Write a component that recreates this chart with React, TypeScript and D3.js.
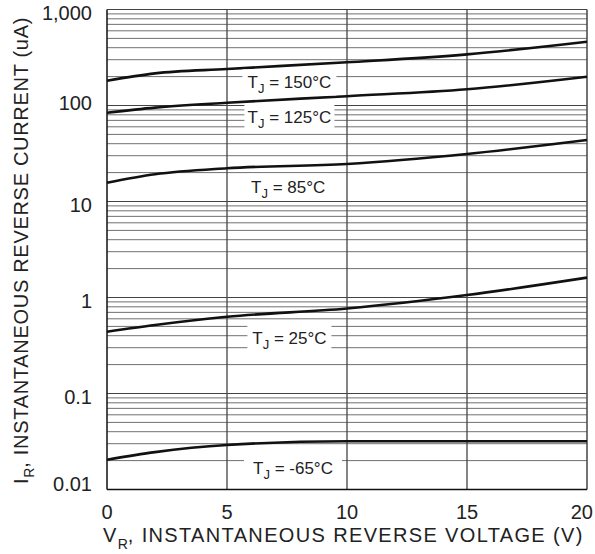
import React from "react";
import * as d3 from "d3";

// reverse voltage points (V)
const voltages = [0, 2, 5, 10, 15, 20];

// instantaneous reverse current (uA) per junction temperature
const i150 = [181, 216, 240, 282, 341, 462];
const i125 = [84, 95, 107, 125, 147.5, 199.5];
const i85 = [15.7, 19.2, 22.2, 24.6, 31.3, 43.7];
const i25 = [0.44, 0.517, 0.63, 0.768, 1.06, 1.61];
const iM65 = [0.0204, 0.0245, 0.0291, 0.0318, 0.0318, 0.0318];

const temps = ["150", "125", "85", "25", "-65"];
const seriesList = [i150, i125, i85, i25, iM65];

// label anchors in data coords [V, uA]
const labelAnchors: [number, number][] = [
  [7.6, 174],
  [7.6, 76],
  [7.55, 14.3],
  [7.6, 0.38],
  [7.75, 0.0168],
];
const labelBoxW = [94, 90, 82, 84, 98];

const xTicks = [0, 5, 10, 15, 20];
const yTicks = [0.01, 0.1, 1, 10, 100, 1000];
const yTickLabels = ["0.01", "0.1", "1", "10", "100", "1,000"];

const W = 595;
const H = 554;
const left = 107;
const right = 587;
const top = 9.5;
const bottom = 489.5;

export default function App() {
  const x = d3.scaleLinear().domain([0, 20]).range([left, right]);
  const y = d3.scaleLog().domain([0.01, 1000]).range([bottom, top]);

  const minor: number[] = [];
  for (let d = 0.01; d < 1000; d *= 10) {
    for (let k = 2; k <= 9; k++) minor.push(+(d * k).toPrecision(3));
  }

  const line = d3
    .line<number>()
    .x((_, i) => x(voltages[i]))
    .y((v) => y(v))
    .curve(d3.curveMonotoneX);

  const font = "Arial, 'Liberation Sans', sans-serif";
  // tick label baseline offsets below each decade line
  const tickDy = (v: number) => (v === 0.01 ? 1 : v === 100 ? 4 : 10);

  return (
    <svg
      width={W}
      height={H}
      style={{ position: "absolute", left: 0, top: 0, background: "#fff" }}
      fontFamily={font}
    >
      <rect width={W} height={H} fill="#fff" />
      {/* minor horizontal grid */}
      {minor.map((v) => (
        <line
          key={"m" + v}
          x1={left}
          x2={right}
          y1={y(v)}
          y2={y(v)}
          stroke="#707070"
          strokeWidth={1}
        />
      ))}
      {/* decade grid */}
      {yTicks.map((v) => (
        <line
          key={"d" + v}
          x1={left}
          x2={right}
          y1={y(v)}
          y2={y(v)}
          stroke="#444"
          strokeWidth={1}
        />
      ))}
      {/* vertical grid */}
      {xTicks.slice(1, -1).map((v) => (
        <line
          key={"v" + v}
          x1={x(v)}
          x2={x(v)}
          y1={top}
          y2={bottom}
          stroke="#444"
          strokeWidth={1.3}
        />
      ))}
      {/* frame */}
      <line x1={left} x2={left} y1={top} y2={bottom} stroke="#111" strokeWidth={1.5} />
      <line x1={right} x2={right} y1={top} y2={bottom} stroke="#444" strokeWidth={1.5} />
      <line x1={left} x2={right} y1={bottom} y2={bottom} stroke="#111" strokeWidth={1.5} />

      {/* curves */}
      {seriesList.map((s, i) => (
        <path
          key={"c" + i}
          d={line(s) || ""}
          fill="none"
          stroke="#111"
          strokeWidth={2.6}
        />
      ))}

      {/* curve labels */}
      {temps.map((t, i) => {
        const cx = x(labelAnchors[i][0]);
        const cy = y(labelAnchors[i][1]);
        const bw = labelBoxW[i];
        return (
          <g key={"l" + t}>
            <rect x={cx - bw / 2} y={cy - 13} width={bw} height={26} fill="#fff" />
            <text x={cx} y={cy + 6} textAnchor="middle" fontSize={17} fill="#222">
              T
              <tspan fontSize={13} dy={5}>J</tspan>
              <tspan dy={-5}>{` = ${t}°C`}</tspan>
            </text>
          </g>
        );
      })}

      {/* y tick labels */}
      {yTicks.map((v, i) => (
        <text
          key={"yt" + v}
          x={left - 15}
          y={y(v) + tickDy(v)}
          textAnchor="end"
          fontSize={20}
          fill="#222"
        >
          {yTickLabels[i]}
        </text>
      ))}
      {/* x tick labels */}
      {xTicks.map((v, i) => (
        <text
          key={"xt" + v}
          x={i === xTicks.length - 1 ? x(v) + 6 : x(v)}
          y={519}
          textAnchor={i === xTicks.length - 1 ? "end" : "middle"}
          fontSize={20}
          fill="#222"
        >
          {v}
        </text>
      ))}

      {/* axis titles */}
      <text x={103} y={542} fontSize={20} fill="#222" letterSpacing={1.35}>
        V<tspan fontSize={14} dy={7} letterSpacing={0}>R</tspan>
        <tspan dy={-7}>, INSTANTANEOUS REVERSE VOLTAGE (V)</tspan>
      </text>
      <text
        transform={`translate(28, ${(top + bottom) / 2 + 1}) rotate(-90)`}
        textAnchor="middle"
        fontSize={20}
        fill="#222"
        letterSpacing={0.7}
      >
        I<tspan fontSize={14} dy={6} letterSpacing={0}>R</tspan>
        <tspan dy={-6}>, INSTANTANEOUS REVERSE CURRENT (uA)</tspan>
      </text>
    </svg>
  );
}
